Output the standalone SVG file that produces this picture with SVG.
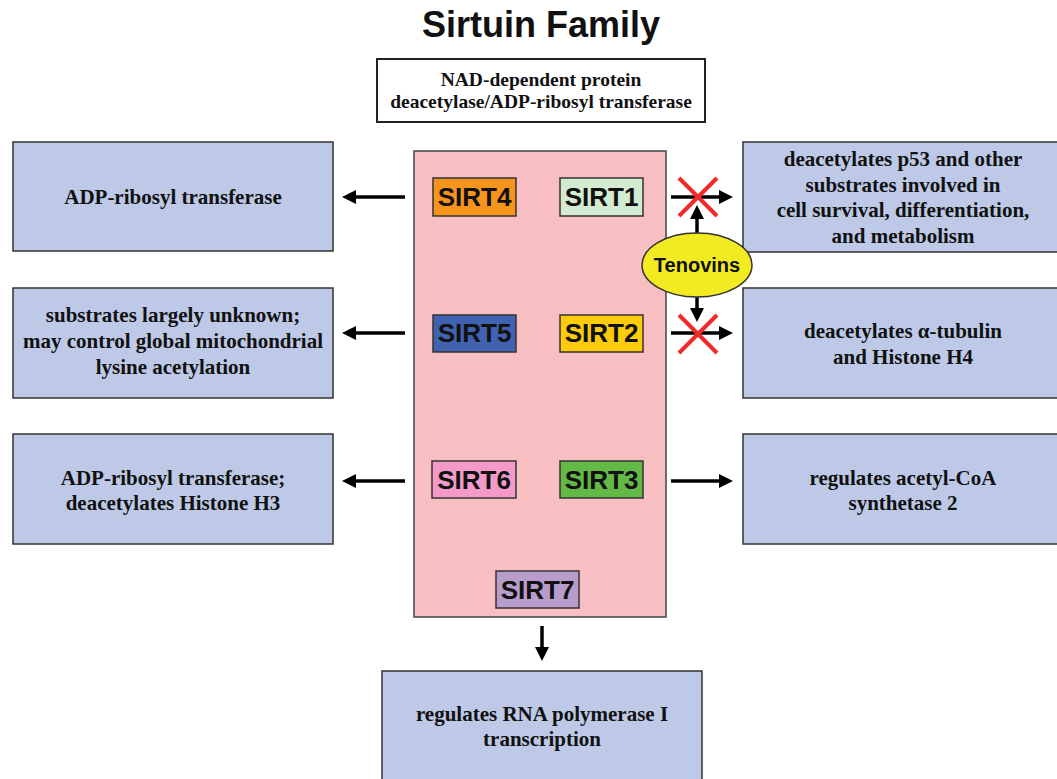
<svg xmlns="http://www.w3.org/2000/svg" width="1057" height="779" viewBox="0 0 1057 779">
<defs>
<marker id="ah" markerUnits="userSpaceOnUse" markerWidth="15" markerHeight="15" refX="2" refY="7" orient="auto">
<path d="M0,0 L14,7 L0,14 z" fill="#000"/>
</marker>
<style>
.box{fill:#bdc9e7;stroke:#333;stroke-width:1.5}
.t{font-family:"Liberation Serif","Times New Roman",serif;font-weight:bold;font-size:21px;fill:#111;text-anchor:middle}
.s{font-family:"Liberation Sans",Arial,sans-serif;font-weight:bold;font-size:26px;fill:#111;text-anchor:middle}
.sb{stroke:#333;stroke-width:1.5}
.arr{stroke:#000;stroke-width:3.5;fill:none;marker-end:url(#ah)}
.x{stroke:#ee2a2a;stroke-width:4;stroke-linecap:butt}
</style>
</defs>
<rect width="1057" height="779" fill="#fff"/>
<text x="541" y="37" font-family="Liberation Sans, Arial, sans-serif" font-weight="bold" font-size="36" text-anchor="middle" fill="#111">Sirtuin Family</text>
<g id="nad">
<rect x="377" y="59" width="328" height="63" fill="#fff" stroke="#222" stroke-width="2"/>
<text class="t" x="541" y="86" style="font-size:19.5px">NAD-dependent protein</text>
<text class="t" x="541" y="108" style="font-size:19.5px">deacetylase/ADP-ribosyl transferase</text>
</g>
<g id="family">
<rect x="414" y="151" width="252" height="466" fill="#f8bfc2" stroke="#444" stroke-width="1.5"/>
</g>
<g id="sirt4"><rect class="sb" x="433" y="178" width="83" height="38" fill="#f7941d"/><text class="s" x="474.5" y="206">SIRT4</text></g>
<g id="sirt1"><rect class="sb" x="560" y="178" width="83" height="38" fill="#d3ebd0"/><text class="s" x="601.5" y="206">SIRT1</text></g>
<g id="sirt5"><rect class="sb" x="433" y="315" width="83" height="37" fill="#4062b0"/><text class="s" x="474.5" y="342">SIRT5</text></g>
<g id="sirt2"><rect class="sb" x="560" y="315" width="83" height="37" fill="#fdcb0b"/><text class="s" x="601.5" y="342">SIRT2</text></g>
<g id="sirt6"><rect class="sb" x="432" y="461" width="84" height="37" fill="#f49ac9"/><text class="s" x="474" y="489">SIRT6</text></g>
<g id="sirt3"><rect class="sb" x="560" y="461" width="83" height="37" fill="#63b946"/><text class="s" x="601.5" y="489">SIRT3</text></g>
<g id="sirt7"><rect class="sb" x="496" y="571" width="83" height="37" fill="#b89ccb"/><text class="s" x="537.5" y="599">SIRT7</text></g>
<g id="left1"><rect class="box" x="13" y="142" width="320" height="109"/><text class="t" x="173" y="204">ADP-ribosyl transferase</text></g>
<g id="left2"><rect class="box" x="13" y="288" width="320" height="110"/>
<text class="t" x="173" y="322">substrates largely unknown;</text>
<text class="t" x="173" y="348">may control global mitochondrial</text>
<text class="t" x="173" y="374">lysine acetylation</text></g>
<g id="left3"><rect class="box" x="13" y="434" width="320" height="110"/>
<text class="t" x="173" y="485">ADP-ribosyl transferase;</text>
<text class="t" x="173" y="510">deacetylates Histone H3</text></g>
<g id="right1"><rect class="box" x="743" y="142" width="320" height="110"/>
<text class="t" x="903" y="166">deacetylates p53 and other</text>
<text class="t" x="903" y="191.5">substrates involved in</text>
<text class="t" x="903" y="217">cell survival, differentiation,</text>
<text class="t" x="903" y="242.5">and metabolism</text></g>
<g id="right2"><rect class="box" x="743" y="288" width="320" height="110"/>
<text class="t" x="903" y="338">deacetylates α-tubulin</text>
<text class="t" x="903" y="364">and Histone H4</text></g>
<g id="right3"><rect class="box" x="743" y="434" width="320" height="110"/>
<text class="t" x="903" y="485">regulates acetyl-CoA</text>
<text class="t" x="903" y="510">synthetase 2</text></g>
<g id="bottom"><rect class="box" x="382" y="671" width="320" height="112"/>
<text class="t" x="542" y="721">regulates RNA polymerase I</text>
<text class="t" x="542" y="746">transcription</text></g>
<g id="connectors">
<line class="arr" x1="405" y1="197" x2="354" y2="197"/>
<line class="arr" x1="405" y1="333" x2="354" y2="333"/>
<line class="arr" x1="405" y1="481" x2="354" y2="481"/>
<line class="arr" x1="671" y1="197" x2="721" y2="197"/>
<line class="arr" x1="671" y1="333" x2="721" y2="333"/>
<line class="arr" x1="671" y1="481" x2="721" y2="481"/>
<line class="arr" x1="697" y1="234" x2="697" y2="217"/>
<line class="arr" x1="697" y1="296" x2="697" y2="310"/>
<line class="arr" x1="542" y1="626" x2="542" y2="649"/>
</g>
<g id="tenovins">
<ellipse cx="697" cy="265" rx="55" ry="32" fill="#f3eb22" stroke="#333" stroke-width="1.5"/>
<text x="697" y="272" font-family="Liberation Sans, Arial, sans-serif" font-weight="bold" font-size="20" text-anchor="middle" fill="#111">Tenovins</text>
</g>
<g id="blocks">
<line class="x" x1="679" y1="178" x2="717" y2="216"/>
<line class="x" x1="717" y1="178" x2="679" y2="216"/>
<line class="x" x1="679" y1="315" x2="717" y2="353"/>
<line class="x" x1="717" y1="315" x2="679" y2="353"/>
</g>
</svg>
